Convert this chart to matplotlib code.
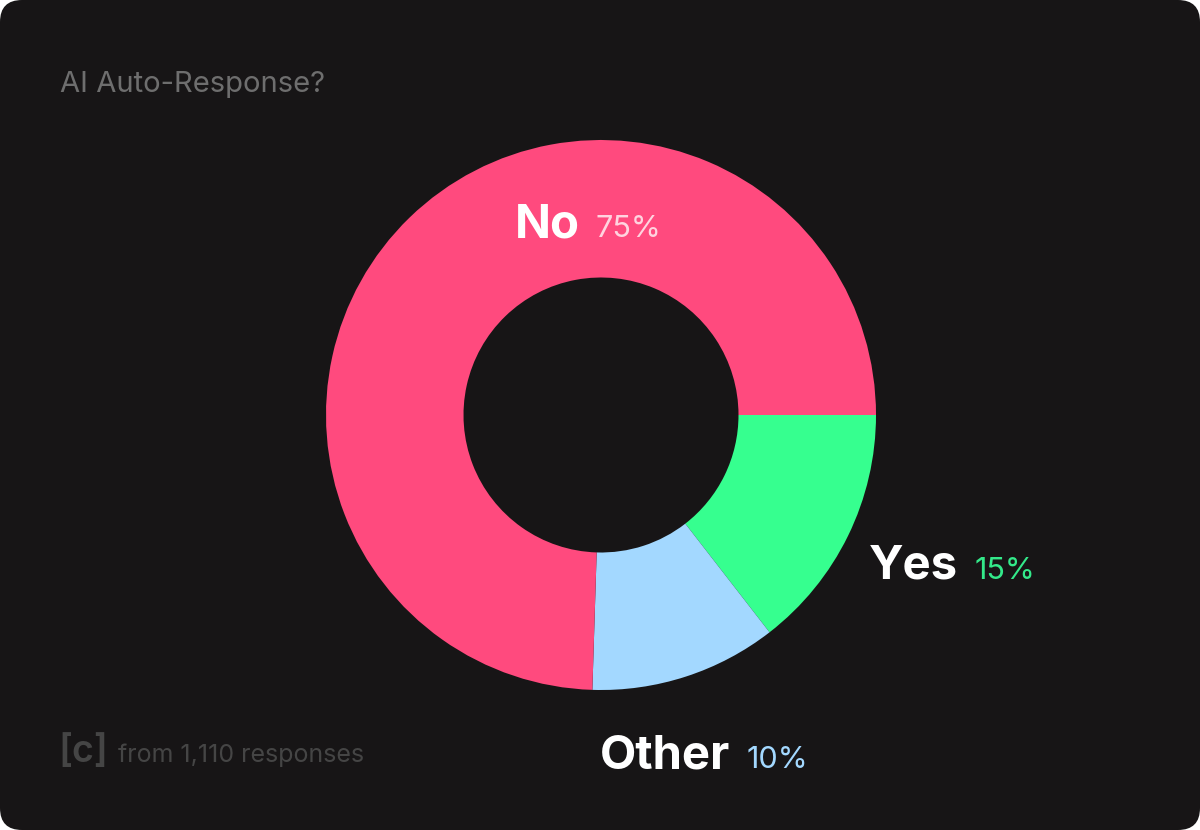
import matplotlib.pyplot as plt
from matplotlib.patches import FancyBboxPatch
from matplotlib.transforms import IdentityTransform

# -----------------------------
# data (slice sizes read off the arcs, labels as printed)
# -----------------------------
labels = ['Yes', 'Other', 'No']
shares = [14.5, 11.0, 74.5]
pct_labels = ['15%', '10%', '75%']
slice_colors = ['#36FF8F', '#A3D8FF', '#FF4A7E']
pct_colors = ['#33E98A', '#A3D8FF', '#FFD3DF']

TITLE = 'AI Auto-Response?'
FOOTER = 'from 1,110 responses'

# label anchor (left edge of name, baseline) in donut data units
label_pos = {'No': (-0.313, 0.647), 'Yes': (0.975, -0.596), 'Other': (-0.004, -1.284)}

BG = '#171516'
FONT = ['Inter', 'DejaVu Sans']
plt.rcParams['font.family'] = FONT

W, H, DPI = 1200, 830, 100
fig = plt.figure(figsize=(W / DPI, H / DPI), dpi=DPI, facecolor='white')

# rounded dark card, kept behind the axes
card = FancyBboxPatch((0, 0), W, H, boxstyle='round,pad=0,rounding_size=22',
                      transform=IdentityTransform(), facecolor=BG, edgecolor='none',
                      zorder=-10)
fig.patches.append(card)

# donut axes: center (601, 415) px, radius 275 px
cx, cy, r = 601, 415, 275
ax = fig.add_axes([(cx - r) / W, (H - cy - r) / H, 2 * r / W, 2 * r / H])
ax.set_facecolor('none')

wedges, _ = ax.pie(shares, colors=slice_colors, startangle=0, counterclock=False,
                   radius=1, wedgeprops=dict(width=0.5, edgecolor='none'))
ax.set_xlim(-1, 1)
ax.set_ylim(-1, 1)
ax.set_aspect('equal')
ax.axis('off')

# name in bold white, percentage right after it on the same baseline
fig.canvas.draw()
renderer = fig.canvas.get_renderer()
GAP_PX = 16
for name, pl, pc in zip(labels, pct_labels, pct_colors):
    x, y = label_pos[name]
    t = ax.text(x, y, name, color='white', fontsize=34, fontweight='bold',
                ha='left', va='baseline', clip_on=False)
    bb = t.get_window_extent(renderer)
    _, ydisp = ax.transData.transform((x, y))
    px, py = ax.transData.inverted().transform((bb.x1 + GAP_PX, ydisp))
    ax.text(px, py, pl, color=pc, fontsize=22, ha='left', va='baseline',
            clip_on=False)

# title and footer
fig.text(60 / W, 1 - 92 / H, TITLE, color='#6E6E6E', fontsize=21,
         ha='left', va='baseline')
fig.text(58 / W, 1 - 762 / H, '[c]', color='#454545', fontsize=27,
         fontweight='semibold', ha='left', va='baseline')
fig.text(118 / W, 1 - 762 / H, FOOTER, color='#454545', fontsize=18,
         ha='left', va='baseline')

fig.savefig('out.png', dpi=DPI, facecolor=fig.get_facecolor())
